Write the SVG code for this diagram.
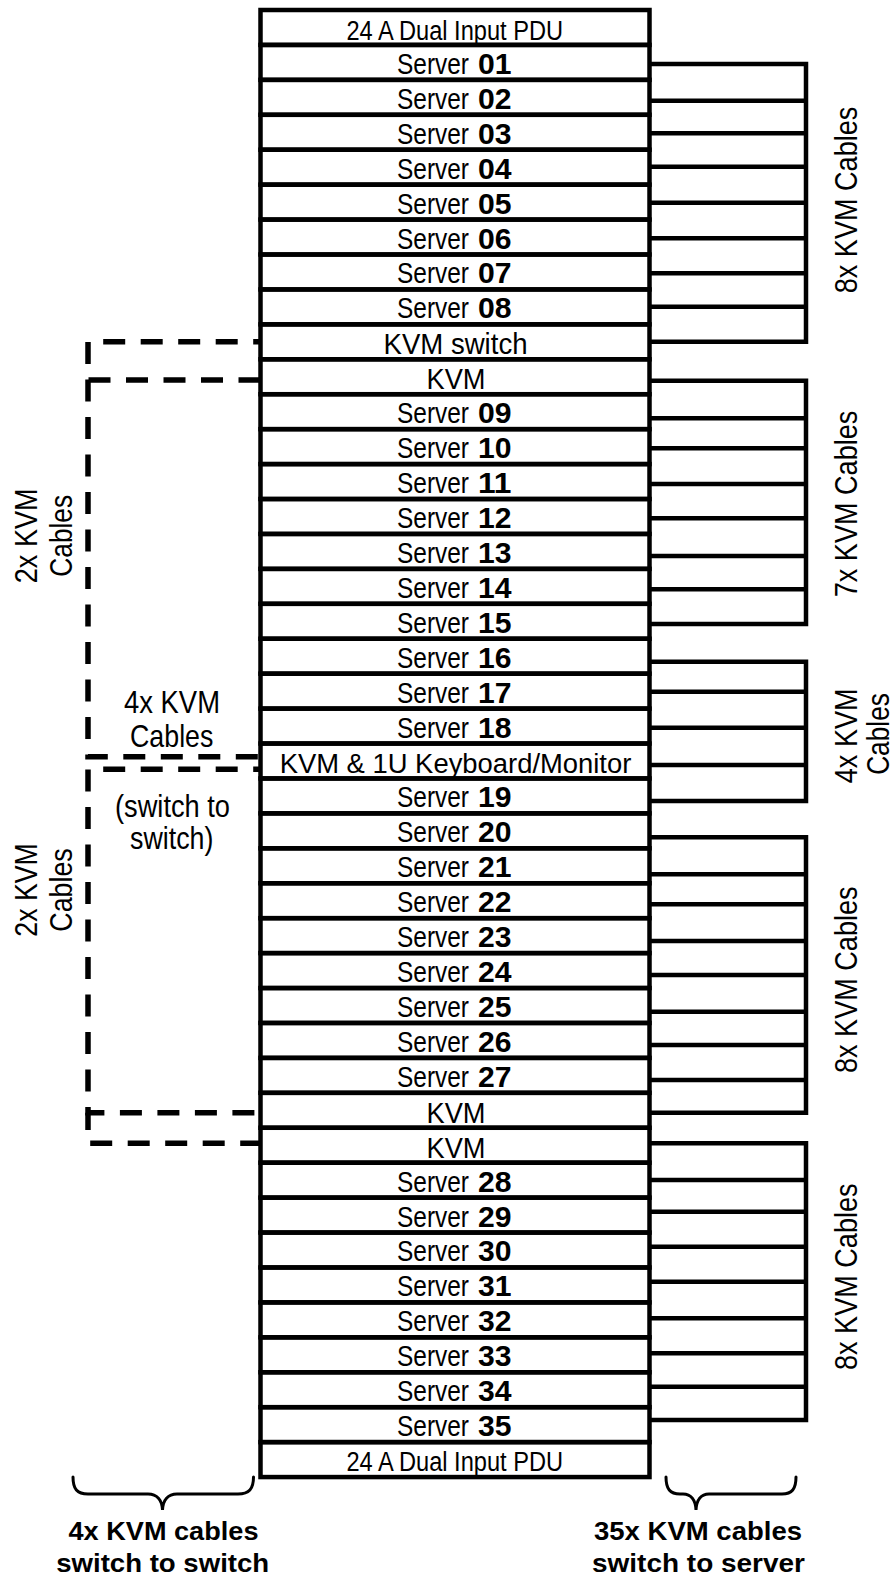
<svg xmlns="http://www.w3.org/2000/svg" width="893" height="1579" viewBox="0 0 893 1579">
<style>
.rk{fill:none;stroke:#000;stroke-width:4.5}
.t{font-family:"Liberation Sans",Arial,sans-serif;fill:#000;text-anchor:middle}
.sv{font-family:"Liberation Sans",Arial,sans-serif;fill:#000;font-size:30px;text-anchor:start}
.nm{font-family:"Liberation Sans",Arial,sans-serif;fill:#000;font-size:30px;font-weight:bold;text-anchor:start}
.s30{font-size:30px}
.s27{font-size:27px}
.s32{font-size:32px}
.bl{font-family:"Liberation Sans",Arial,sans-serif;fill:#000;text-anchor:middle;font-size:26.5px;font-weight:bold}
.cn{fill:none;stroke:#000;stroke-width:4.5;stroke-linejoin:miter}
.ds{fill:none;stroke:#000;stroke-width:5.5;stroke-dasharray:22 15.5}
.br{fill:none;stroke:#000;stroke-width:3;stroke-linecap:round}
</style>
<rect width="893" height="1579" fill="#fff"/>

<g id="rack">
<g id="row00-pdu-top"><rect class="rk" x="260.5" y="10" width="389" height="34.93"/><text class="t s27" x="454.75" y="39.9" textLength="216.7" lengthAdjust="spacingAndGlyphs">24 A Dual Input PDU</text></g>
<g id="row01-server-01"><rect class="rk" x="260.5" y="44.93" width="389" height="34.93"/><text class="sv" x="397" y="73.86" textLength="72" lengthAdjust="spacingAndGlyphs">Server</text><text class="nm" x="478" y="73.86" textLength="33.5" lengthAdjust="spacingAndGlyphs">01</text></g>
<g id="row02-server-02"><rect class="rk" x="260.5" y="79.86" width="389" height="34.93"/><text class="sv" x="397" y="108.79" textLength="72" lengthAdjust="spacingAndGlyphs">Server</text><text class="nm" x="478" y="108.79" textLength="33.5" lengthAdjust="spacingAndGlyphs">02</text></g>
<g id="row03-server-03"><rect class="rk" x="260.5" y="114.79" width="389" height="34.93"/><text class="sv" x="397" y="143.72" textLength="72" lengthAdjust="spacingAndGlyphs">Server</text><text class="nm" x="478" y="143.72" textLength="33.5" lengthAdjust="spacingAndGlyphs">03</text></g>
<g id="row04-server-04"><rect class="rk" x="260.5" y="149.72" width="389" height="34.93"/><text class="sv" x="397" y="178.65" textLength="72" lengthAdjust="spacingAndGlyphs">Server</text><text class="nm" x="478" y="178.65" textLength="33.5" lengthAdjust="spacingAndGlyphs">04</text></g>
<g id="row05-server-05"><rect class="rk" x="260.5" y="184.65" width="389" height="34.93"/><text class="sv" x="397" y="213.58" textLength="72" lengthAdjust="spacingAndGlyphs">Server</text><text class="nm" x="478" y="213.58" textLength="33.5" lengthAdjust="spacingAndGlyphs">05</text></g>
<g id="row06-server-06"><rect class="rk" x="260.5" y="219.58" width="389" height="34.93"/><text class="sv" x="397" y="248.51" textLength="72" lengthAdjust="spacingAndGlyphs">Server</text><text class="nm" x="478" y="248.51" textLength="33.5" lengthAdjust="spacingAndGlyphs">06</text></g>
<g id="row07-server-07"><rect class="rk" x="260.5" y="254.51" width="389" height="34.93"/><text class="sv" x="397" y="283.44" textLength="72" lengthAdjust="spacingAndGlyphs">Server</text><text class="nm" x="478" y="283.44" textLength="33.5" lengthAdjust="spacingAndGlyphs">07</text></g>
<g id="row08-server-08"><rect class="rk" x="260.5" y="289.44" width="389" height="34.93"/><text class="sv" x="397" y="318.37" textLength="72" lengthAdjust="spacingAndGlyphs">Server</text><text class="nm" x="478" y="318.37" textLength="33.5" lengthAdjust="spacingAndGlyphs">08</text></g>
<g id="row09-kvm-switch"><rect class="rk" x="260.5" y="324.37" width="389" height="34.93"/><text class="t s30" x="455.5" y="353.8" textLength="144" lengthAdjust="spacingAndGlyphs">KVM switch</text></g>
<g id="row10-kvm-a"><rect class="rk" x="260.5" y="359.3" width="389" height="34.93"/><text class="t s30" x="456" y="389.23" textLength="59" lengthAdjust="spacingAndGlyphs">KVM</text></g>
<g id="row11-server-09"><rect class="rk" x="260.5" y="394.23" width="389" height="34.93"/><text class="sv" x="397" y="423.16" textLength="72" lengthAdjust="spacingAndGlyphs">Server</text><text class="nm" x="478" y="423.16" textLength="33.5" lengthAdjust="spacingAndGlyphs">09</text></g>
<g id="row12-server-10"><rect class="rk" x="260.5" y="429.16" width="389" height="34.93"/><text class="sv" x="397" y="458.09" textLength="72" lengthAdjust="spacingAndGlyphs">Server</text><text class="nm" x="478" y="458.09" textLength="33.5" lengthAdjust="spacingAndGlyphs">10</text></g>
<g id="row13-server-11"><rect class="rk" x="260.5" y="464.09" width="389" height="34.93"/><text class="sv" x="397" y="493.02" textLength="72" lengthAdjust="spacingAndGlyphs">Server</text><text class="nm" x="478" y="493.02" textLength="33.5" lengthAdjust="spacingAndGlyphs">11</text></g>
<g id="row14-server-12"><rect class="rk" x="260.5" y="499.02" width="389" height="34.93"/><text class="sv" x="397" y="527.95" textLength="72" lengthAdjust="spacingAndGlyphs">Server</text><text class="nm" x="478" y="527.95" textLength="33.5" lengthAdjust="spacingAndGlyphs">12</text></g>
<g id="row15-server-13"><rect class="rk" x="260.5" y="533.95" width="389" height="34.93"/><text class="sv" x="397" y="562.88" textLength="72" lengthAdjust="spacingAndGlyphs">Server</text><text class="nm" x="478" y="562.88" textLength="33.5" lengthAdjust="spacingAndGlyphs">13</text></g>
<g id="row16-server-14"><rect class="rk" x="260.5" y="568.88" width="389" height="34.93"/><text class="sv" x="397" y="597.81" textLength="72" lengthAdjust="spacingAndGlyphs">Server</text><text class="nm" x="478" y="597.81" textLength="33.5" lengthAdjust="spacingAndGlyphs">14</text></g>
<g id="row17-server-15"><rect class="rk" x="260.5" y="603.81" width="389" height="34.93"/><text class="sv" x="397" y="632.74" textLength="72" lengthAdjust="spacingAndGlyphs">Server</text><text class="nm" x="478" y="632.74" textLength="33.5" lengthAdjust="spacingAndGlyphs">15</text></g>
<g id="row18-server-16"><rect class="rk" x="260.5" y="638.74" width="389" height="34.93"/><text class="sv" x="397" y="667.67" textLength="72" lengthAdjust="spacingAndGlyphs">Server</text><text class="nm" x="478" y="667.67" textLength="33.5" lengthAdjust="spacingAndGlyphs">16</text></g>
<g id="row19-server-17"><rect class="rk" x="260.5" y="673.67" width="389" height="34.93"/><text class="sv" x="397" y="702.6" textLength="72" lengthAdjust="spacingAndGlyphs">Server</text><text class="nm" x="478" y="702.6" textLength="33.5" lengthAdjust="spacingAndGlyphs">17</text></g>
<g id="row20-server-18"><rect class="rk" x="260.5" y="708.6" width="389" height="34.93"/><text class="sv" x="397" y="737.53" textLength="72" lengthAdjust="spacingAndGlyphs">Server</text><text class="nm" x="478" y="737.53" textLength="33.5" lengthAdjust="spacingAndGlyphs">18</text></g>
<g id="row21-kvm-console"><rect class="rk" x="260.5" y="743.53" width="389" height="34.93"/><text class="t s27" x="455.5" y="773.46" textLength="351.7" lengthAdjust="spacingAndGlyphs">KVM &amp; 1U Keyboard/Monitor</text></g>
<g id="row22-server-19"><rect class="rk" x="260.5" y="778.46" width="389" height="34.93"/><text class="sv" x="397" y="807.39" textLength="72" lengthAdjust="spacingAndGlyphs">Server</text><text class="nm" x="478" y="807.39" textLength="33.5" lengthAdjust="spacingAndGlyphs">19</text></g>
<g id="row23-server-20"><rect class="rk" x="260.5" y="813.39" width="389" height="34.93"/><text class="sv" x="397" y="842.32" textLength="72" lengthAdjust="spacingAndGlyphs">Server</text><text class="nm" x="478" y="842.32" textLength="33.5" lengthAdjust="spacingAndGlyphs">20</text></g>
<g id="row24-server-21"><rect class="rk" x="260.5" y="848.32" width="389" height="34.93"/><text class="sv" x="397" y="877.25" textLength="72" lengthAdjust="spacingAndGlyphs">Server</text><text class="nm" x="478" y="877.25" textLength="33.5" lengthAdjust="spacingAndGlyphs">21</text></g>
<g id="row25-server-22"><rect class="rk" x="260.5" y="883.25" width="389" height="34.93"/><text class="sv" x="397" y="912.18" textLength="72" lengthAdjust="spacingAndGlyphs">Server</text><text class="nm" x="478" y="912.18" textLength="33.5" lengthAdjust="spacingAndGlyphs">22</text></g>
<g id="row26-server-23"><rect class="rk" x="260.5" y="918.18" width="389" height="34.93"/><text class="sv" x="397" y="947.11" textLength="72" lengthAdjust="spacingAndGlyphs">Server</text><text class="nm" x="478" y="947.11" textLength="33.5" lengthAdjust="spacingAndGlyphs">23</text></g>
<g id="row27-server-24"><rect class="rk" x="260.5" y="953.11" width="389" height="34.93"/><text class="sv" x="397" y="982.04" textLength="72" lengthAdjust="spacingAndGlyphs">Server</text><text class="nm" x="478" y="982.04" textLength="33.5" lengthAdjust="spacingAndGlyphs">24</text></g>
<g id="row28-server-25"><rect class="rk" x="260.5" y="988.04" width="389" height="34.93"/><text class="sv" x="397" y="1016.97" textLength="72" lengthAdjust="spacingAndGlyphs">Server</text><text class="nm" x="478" y="1016.97" textLength="33.5" lengthAdjust="spacingAndGlyphs">25</text></g>
<g id="row29-server-26"><rect class="rk" x="260.5" y="1022.97" width="389" height="34.93"/><text class="sv" x="397" y="1051.9" textLength="72" lengthAdjust="spacingAndGlyphs">Server</text><text class="nm" x="478" y="1051.9" textLength="33.5" lengthAdjust="spacingAndGlyphs">26</text></g>
<g id="row30-server-27"><rect class="rk" x="260.5" y="1057.9" width="389" height="34.93"/><text class="sv" x="397" y="1086.83" textLength="72" lengthAdjust="spacingAndGlyphs">Server</text><text class="nm" x="478" y="1086.83" textLength="33.5" lengthAdjust="spacingAndGlyphs">27</text></g>
<g id="row31-kvm-b"><rect class="rk" x="260.5" y="1092.83" width="389" height="34.93"/><text class="t s30" x="456" y="1122.76" textLength="59" lengthAdjust="spacingAndGlyphs">KVM</text></g>
<g id="row32-kvm-c"><rect class="rk" x="260.5" y="1127.76" width="389" height="34.93"/><text class="t s30" x="456" y="1157.69" textLength="59" lengthAdjust="spacingAndGlyphs">KVM</text></g>
<g id="row33-server-28"><rect class="rk" x="260.5" y="1162.69" width="389" height="34.93"/><text class="sv" x="397" y="1191.62" textLength="72" lengthAdjust="spacingAndGlyphs">Server</text><text class="nm" x="478" y="1191.62" textLength="33.5" lengthAdjust="spacingAndGlyphs">28</text></g>
<g id="row34-server-29"><rect class="rk" x="260.5" y="1197.62" width="389" height="34.93"/><text class="sv" x="397" y="1226.55" textLength="72" lengthAdjust="spacingAndGlyphs">Server</text><text class="nm" x="478" y="1226.55" textLength="33.5" lengthAdjust="spacingAndGlyphs">29</text></g>
<g id="row35-server-30"><rect class="rk" x="260.5" y="1232.55" width="389" height="34.93"/><text class="sv" x="397" y="1261.48" textLength="72" lengthAdjust="spacingAndGlyphs">Server</text><text class="nm" x="478" y="1261.48" textLength="33.5" lengthAdjust="spacingAndGlyphs">30</text></g>
<g id="row36-server-31"><rect class="rk" x="260.5" y="1267.48" width="389" height="34.93"/><text class="sv" x="397" y="1296.41" textLength="72" lengthAdjust="spacingAndGlyphs">Server</text><text class="nm" x="478" y="1296.41" textLength="33.5" lengthAdjust="spacingAndGlyphs">31</text></g>
<g id="row37-server-32"><rect class="rk" x="260.5" y="1302.41" width="389" height="34.93"/><text class="sv" x="397" y="1331.34" textLength="72" lengthAdjust="spacingAndGlyphs">Server</text><text class="nm" x="478" y="1331.34" textLength="33.5" lengthAdjust="spacingAndGlyphs">32</text></g>
<g id="row38-server-33"><rect class="rk" x="260.5" y="1337.34" width="389" height="34.93"/><text class="sv" x="397" y="1366.27" textLength="72" lengthAdjust="spacingAndGlyphs">Server</text><text class="nm" x="478" y="1366.27" textLength="33.5" lengthAdjust="spacingAndGlyphs">33</text></g>
<g id="row39-server-34"><rect class="rk" x="260.5" y="1372.27" width="389" height="34.93"/><text class="sv" x="397" y="1401.2" textLength="72" lengthAdjust="spacingAndGlyphs">Server</text><text class="nm" x="478" y="1401.2" textLength="33.5" lengthAdjust="spacingAndGlyphs">34</text></g>
<g id="row40-server-35"><rect class="rk" x="260.5" y="1407.2" width="389" height="34.93"/><text class="sv" x="397" y="1436.13" textLength="72" lengthAdjust="spacingAndGlyphs">Server</text><text class="nm" x="478" y="1436.13" textLength="33.5" lengthAdjust="spacingAndGlyphs">35</text></g>
<g id="row41-pdu-bottom"><rect class="rk" x="260.5" y="1442.13" width="389" height="34.93"/><text class="t s27" x="454.75" y="1471.2" textLength="216.7" lengthAdjust="spacingAndGlyphs">24 A Dual Input PDU</text></g>
</g>

<g id="connectors">
<path id="cables-group-1" class="cn" d="M649.5,64 H806 V341.7 H649.5 M649.5,100.7 H806 M649.5,133.3 H806 M649.5,166.7 H806 M649.5,202.7 H806 M649.5,238.3 H806 M649.5,273.3 H806 M649.5,306.7 H806"/>
<path id="cables-group-2" class="cn" d="M649.5,380.7 H806 V624 H649.5 M649.5,418.3 H806 M649.5,448.3 H806 M649.5,484 H806 M649.5,518.3 H806 M649.5,556 H806 M649.5,589.3 H806"/>
<path id="cables-group-3" class="cn" d="M649.5,661.7 H806 V801 H649.5 M649.5,691.7 H806 M649.5,727.7 H806 M649.5,765 H806"/>
<path id="cables-group-4" class="cn" d="M649.5,837.3 H806 V1112.7 H649.5 M649.5,874.3 H806 M649.5,904.3 H806 M649.5,941 H806 M649.5,975 H806 M649.5,1011.7 H806 M649.5,1045 H806 M649.5,1080 H806"/>
<path id="cables-group-5" class="cn" d="M649.5,1143.3 H806 V1420 H649.5 M649.5,1180 H806 M649.5,1211.7 H806 M649.5,1246.7 H806 M649.5,1281.7 H806 M649.5,1318.3 H806 M649.5,1353.3 H806 M649.5,1386.7 H806"/>
<path id="sw-cable-1" class="ds" style="stroke-dashoffset:14.7" d="M260.5,341.7 H88 V756.7 H260.5"/>
<path id="sw-cable-2" class="ds" d="M260.5,380 H85.3"/>
<path id="sw-cable-3" class="ds" style="stroke-dashoffset:14.7" d="M260.5,769.3 H88 V1112.7 H260.5"/>
<path id="sw-cable-4" class="ds" style="stroke-dashoffset:4.7" d="M88,1112.7 V1143.3 H260.5"/>
</g>

<g id="labels">
<text class="t s32" transform="translate(36.7,535.8) rotate(-90)" textLength="95" lengthAdjust="spacingAndGlyphs">2x KVM</text>
<text class="t s32" transform="translate(71.7,535.8) rotate(-90)" textLength="81.7" lengthAdjust="spacingAndGlyphs">Cables</text>
<text class="t s32" transform="translate(37.3,890) rotate(-90)" textLength="93.4" lengthAdjust="spacingAndGlyphs">2x KVM</text>
<text class="t s32" transform="translate(71.7,890) rotate(-90)" textLength="83.4" lengthAdjust="spacingAndGlyphs">Cables</text>
<text class="t s32" x="172" y="713.3" textLength="96" lengthAdjust="spacingAndGlyphs">4x KVM</text>
<text class="t s32" x="171.7" y="746.7" textLength="83.3" lengthAdjust="spacingAndGlyphs">Cables</text>
<text class="t s32" x="172.5" y="816.5" textLength="115" lengthAdjust="spacingAndGlyphs">(switch to</text>
<text class="t s32" x="171.7" y="848.5" textLength="83.3" lengthAdjust="spacingAndGlyphs">switch)</text>
<text class="t s32" transform="translate(856.7,200) rotate(-90)" textLength="186.6" lengthAdjust="spacingAndGlyphs">8x KVM Cables</text>
<text class="t s32" transform="translate(856.7,504) rotate(-90)" textLength="186.6" lengthAdjust="spacingAndGlyphs">7x KVM Cables</text>
<text class="t s32" transform="translate(856.7,735.8) rotate(-90)" textLength="95" lengthAdjust="spacingAndGlyphs">4x KVM</text>
<text class="t s32" transform="translate(888.5,734) rotate(-90)" textLength="81.7" lengthAdjust="spacingAndGlyphs">Cables</text>
<text class="t s32" transform="translate(856.7,979.7) rotate(-90)" textLength="186.6" lengthAdjust="spacingAndGlyphs">8x KVM Cables</text>
<text class="t s32" transform="translate(856.7,1276.7) rotate(-90)" textLength="186.6" lengthAdjust="spacingAndGlyphs">8x KVM Cables</text>
</g>

<g id="braces">
<path class="br" d="M73,1477 C73,1489 77,1494 88,1494 H148 C157,1494 162,1500 162.5,1510 C163,1500 168,1494 177,1494 H238 C249,1494 253.5,1489 253.5,1477"/>
<path class="br" d="M666,1477 C666,1489 670,1494 680,1494 H683 C691,1494 695.5,1500 696,1510 C696.5,1500 701,1494 709,1494 H782 C792,1494 796,1489 796,1477"/>
<text class="bl" x="163.5" y="1540" textLength="190" lengthAdjust="spacingAndGlyphs">4x KVM cables</text>
<text class="bl" x="162.7" y="1572" textLength="213" lengthAdjust="spacingAndGlyphs">switch to switch</text>
<text class="bl" x="698" y="1540" textLength="208" lengthAdjust="spacingAndGlyphs">35x KVM cables</text>
<text class="bl" x="698.5" y="1572" textLength="213" lengthAdjust="spacingAndGlyphs">switch to server</text>
</g>
</svg>
